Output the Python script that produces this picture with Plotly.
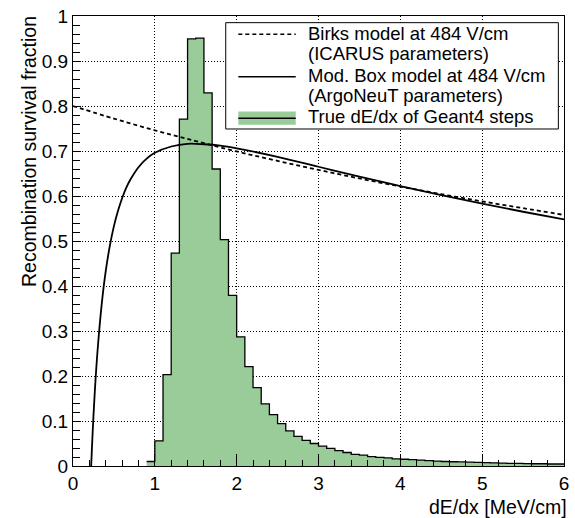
import plotly.graph_objects as go

# ---------------- data ----------------
# histogram: bin edges start at 0.9, width 0.1, up to 6.0
hist_lo = 0.9
hist_width = 0.1
hist_counts = [0.010, 0.056, 0.203, 0.473, 0.771, 0.949, 0.951, 0.829, 0.660, 0.503,
               0.379, 0.287, 0.221, 0.174, 0.138, 0.114, 0.094, 0.078, 0.066, 0.057,
               0.050, 0.044, 0.039, 0.034, 0.030, 0.026, 0.024, 0.021, 0.019, 0.018,
               0.016, 0.015, 0.014, 0.013, 0.012, 0.011, 0.010, 0.0095, 0.009, 0.0085,
               0.008, 0.0075, 0.007, 0.0065, 0.006, 0.006, 0.0055, 0.005, 0.005, 0.0045,
               0.0045]

birks_x = [0.0, 0.5, 1.0, 1.5, 2.0, 2.5, 3.0, 3.5, 4.0, 4.5, 5.0, 5.5, 6.0]
birks_y = [0.800, 0.772, 0.746, 0.722, 0.699, 0.678, 0.658, 0.639, 0.621, 0.604, 0.588, 0.573, 0.558]

modbox_x = [0.222, 0.23, 0.24, 0.25, 0.27, 0.30, 0.35, 0.40, 0.45, 0.50, 0.55, 0.60, 0.65,
            0.70, 0.80, 0.90, 1.0, 1.2, 1.4, 1.6, 1.8, 2.0, 2.5, 3.0, 3.5, 4.0, 4.5,
            5.0, 5.5, 6.0]
modbox_y = [0.0, 0.034, 0.074, 0.111, 0.176, 0.256, 0.358, 0.433, 0.489, 0.533, 0.567,
            0.595, 0.618, 0.636, 0.664, 0.683, 0.696, 0.710, 0.716, 0.715, 0.712, 0.706,
            0.687, 0.665, 0.643, 0.622, 0.602, 0.583, 0.565, 0.548]

x_title = "dE/dx [MeV/cm]"
y_title = "Recombination survival fraction"
legend_lines = ["Birks model at 484 V/cm", "(ICARUS parameters)",
                "Mod. Box model at 484 V/cm", "(ArgoNeuT parameters)",
                "True dE/dx of Geant4 steps"]

# ---------------- figure ----------------
edges = [round(hist_lo + i * hist_width, 4) for i in range(len(hist_counts) + 1)]
step_y = hist_counts + [hist_counts[-1]]

FONT = "Liberation Sans, Arial, Helvetica, sans-serif"
GREEN = "#99cc99"

fig = go.Figure()
fig.add_trace(go.Scatter(x=edges, y=step_y, mode="lines", line=dict(shape="hv", color="black", width=1.3),
                         fill="tozeroy", fillcolor=GREEN, showlegend=False, hoverinfo="skip"))
fig.add_trace(go.Scatter(x=birks_x, y=birks_y, mode="lines",
                         line=dict(color="black", width=1.8, dash="4px,3px", shape="spline"),
                         showlegend=False))
fig.add_trace(go.Scatter(x=modbox_x, y=modbox_y, mode="lines",
                         line=dict(color="black", width=1.8, shape="spline"),
                         showlegend=False))

L, R, T, B = 73, 6, 14, 52
W, H = 575, 518
pw, ph = W - L - R, H - T - B


def px(xp):
    return (xp - L) / pw


def py(yp):
    return (H - B - yp) / ph


axis_common = dict(showline=True, mirror=True, linecolor="black", linewidth=1,
                   ticks="inside", tickcolor="black", tickwidth=1,
                   showgrid=True, gridcolor="black", gridwidth=1, griddash="1px,2px",
                   zeroline=False, tickfont=dict(size=19, color="black", family=FONT))

fig.update_xaxes(range=[0, 6], tick0=0, dtick=1, ticklen=12,
                 minor=dict(dtick=0.2, ticklen=6, ticks="inside", tickcolor="black", showgrid=False),
                 **axis_common)
fig.update_yaxes(range=[0, 1], tick0=0, dtick=0.1, ticklen=8,
                 minor=dict(dtick=0.02, ticklen=7, ticks="inside", tickcolor="black", showgrid=False),
                 **axis_common)

annotations = [
    dict(text=x_title, x=px(574), y=py(507), xref="paper", yref="paper",
         xanchor="right", yanchor="middle", showarrow=False,
         font=dict(size=19.5, family=FONT, color="black")),
    dict(text=y_title, x=px(28), y=py(12), xref="paper", yref="paper",
         xanchor="center", yanchor="top", textangle=-90, showarrow=False,
         font=dict(size=19.5, family=FONT, color="black")),
]
text_rows = [31.7, 51.7, 74, 94, 115]
for t, r in zip(legend_lines, text_rows):
    annotations.append(dict(text=t, x=px(308), y=py(r), xref="paper", yref="paper",
                            xanchor="left", yanchor="middle", showarrow=False,
                            font=dict(size=18.5, family=FONT, color="black")))

shapes = [
    dict(type="rect", xref="paper", yref="paper", x0=px(227.3), x1=px(563.3), y0=py(127.5), y1=py(20.7),
         line=dict(color="black", width=1), fillcolor="white", layer="above"),
    dict(type="line", xref="paper", yref="paper", x0=px(240), x1=px(298), y0=py(32.3), y1=py(32.3),
         line=dict(color="black", width=1.5, dash="4px,3px"), layer="above"),
    dict(type="line", xref="paper", yref="paper", x0=px(240), x1=px(298), y0=py(75), y1=py(75),
         line=dict(color="black", width=1.5), layer="above"),
    dict(type="rect", xref="paper", yref="paper", x0=px(240), x1=px(298), y0=py(123.3), y1=py(110),
         line=dict(width=0), fillcolor=GREEN, layer="above"),
    dict(type="line", xref="paper", yref="paper", x0=px(240), x1=px(298), y0=py(116.7), y1=py(116.7),
         line=dict(color="black", width=1.3), layer="above"),
]

fig.update_layout(width=W, height=H, margin=dict(l=L, r=R, t=T, b=B),
                  paper_bgcolor="white", plot_bgcolor="white",
                  font=dict(family=FONT, color="black"),
                  annotations=annotations, shapes=shapes, showlegend=False)

fig.write_html("out.html", config={"displayModeBar": False},
               post_script="document.body.style.margin='0';document.body.style.overflow='hidden';")
